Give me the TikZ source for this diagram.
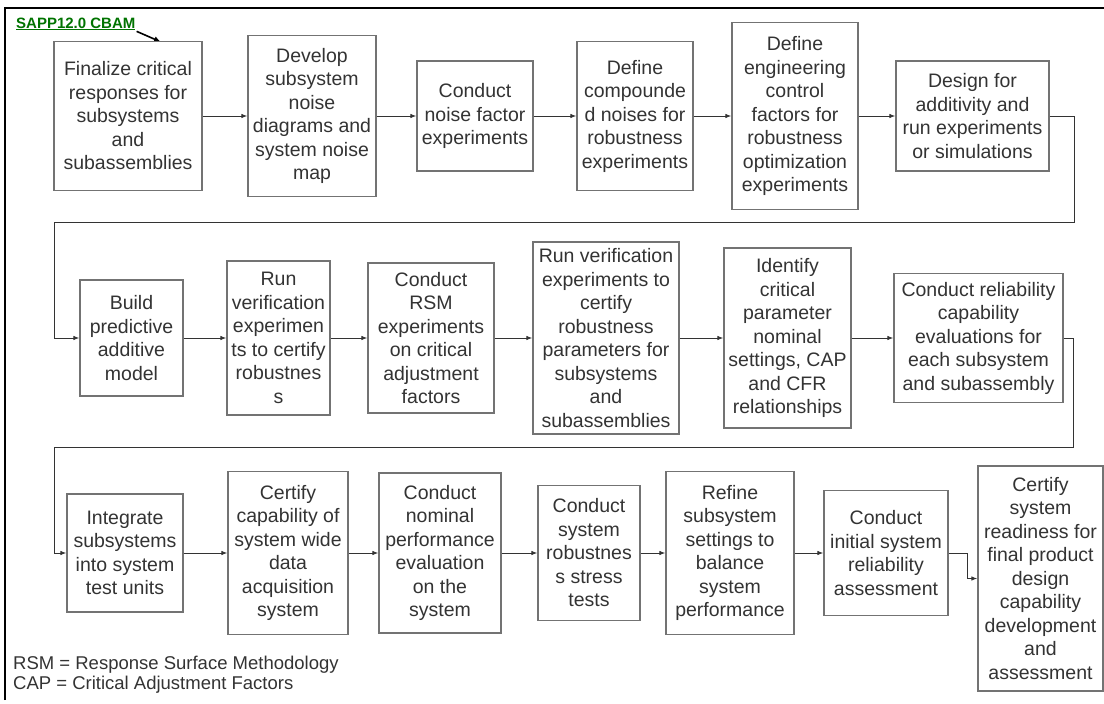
\documentclass[tikz,border=0pt]{standalone}
\usepackage{fontspec}
\setmainfont{Liberation Sans}
\usetikzlibrary{arrows.meta}

\begin{document}
\begin{tikzpicture}[x=1pt,y=-1pt,
box/.style={draw=black!55,line width=1.3pt,fill=white,align=center,inner sep=2pt,text=black!80,font=\fontsize{19.5}{23.5}\selectfont},
flow/.style={draw=black!80,line width=0.9pt,-{Latex[length=6pt,width=4.5pt]}}]
\useasboundingbox (0,0) rectangle (1104,704);
\def\ra{116}\def\rb{338}\def\rc{553}
\draw[line width=2pt] (5,700) -- (5,8) -- (1104,8);
\node[anchor=base west,inner sep=1pt,text=green!45!black,font=\fontsize{15}{17}\selectfont\bfseries] (cbam) at (15,28) {\underline{SAPP12.0 CBAM}};
\coordinate (tip) at (161,42);
\draw[line width=1.6pt,-{Latex[length=7pt,width=6pt]}] (cbam.south east) -- (tip);
\node[box,minimum width=148pt,minimum height=149pt] (s1) at (128,\ra) {Finalize critical\\responses for\\subsystems\\and\\subassemblies};
\node[box,minimum width=128pt,minimum height=161pt] (s2) at (312,\ra) {Develop\\subsystem\\noise\\diagrams and\\system noise\\map};
\node[box,minimum width=116pt,minimum height=110pt] (s3) at (475,\ra) {Conduct\\noise factor\\experiments};
\node[box,minimum width=116pt,minimum height=149pt] (s4) at (635,\ra) {Define\\compounde\\d noises for\\robustness\\experiments};
\node[box,minimum width=126pt,minimum height=187pt] (s5) at (795,\ra) {Define\\engineering\\control\\factors for\\robustness\\optimization\\experiments};
\node[box,minimum width=153pt,minimum height=110pt] (s6) at (972.5,\ra) {Design for\\additivity and\\run experiments\\or simulations};
\node[box,minimum width=103pt,minimum height=116pt] (s7) at (131.5,\rb) {Build\\predictive\\additive\\model};
\node[box,minimum width=103pt,minimum height=154pt] (s8) at (278.5,\rb) {Run\\verification\\experimen\\ts to certify\\robustnes\\s};
\node[box,minimum width=126pt,minimum height=150pt] (s9) at (431,\rb) {Conduct\\RSM\\experiments\\on critical\\adjustment\\factors};
\node[box,minimum width=146pt,minimum height=192pt] (s10) at (606,\rb) {Run verification\\experiments to\\certify\\robustness\\parameters for\\subsystems\\and\\subassemblies};
\node[box,minimum width=127pt,minimum height=180pt] (s11) at (787.5,\rb) {Identify\\critical\\parameter\\nominal\\settings, CAP\\and CFR\\relationships};
\node[box,minimum width=169pt,minimum height=129pt] (s12) at (978.5,\rb) {Conduct reliability\\capability\\evaluations for\\each subsystem\\and subassembly};
\node[box,minimum width=116pt,minimum height=118pt] (s13) at (125,\rc) {Integrate\\subsystems\\into system\\test units};
\node[box,minimum width=120pt,minimum height=163pt] (s14) at (288,\rc) {Certify\\capability of\\system wide\\data\\acquisition\\system};
\node[box,minimum width=122pt,minimum height=160pt] (s15) at (440,\rc) {Conduct\\nominal\\performance\\evaluation\\on the\\system};
\node[box,minimum width=102pt,minimum height=135pt] (s16) at (589,\rc) {Conduct\\system\\robustnes\\s stress\\tests};
\node[box,minimum width=128pt,minimum height=163pt] (s17) at (730,\rc) {Refine\\subsystem\\settings to\\balance\\system\\performance};
\node[box,minimum width=124pt,minimum height=125pt] (s18) at (886,\rc) {Conduct\\initial system\\reliability\\assessment};
\node[box,minimum width=125pt,minimum height=225pt] (s19) at (1040.5,578.5) {Certify\\system\\readiness for\\final product\\design\\capability\\development\\and\\assessment};
\draw[flow] (s1) -- (s2);\draw[flow] (s2) -- (s3);\draw[flow] (s3) -- (s4);\draw[flow] (s4) -- (s5);\draw[flow] (s5) -- (s6);
\draw[flow] (s6.east) -| (1074,222) -| (54,\rb) -- (s7.west);
\draw[flow] (s7) -- (s8);\draw[flow] (s8) -- (s9);\draw[flow] (s9) -- (s10);\draw[flow] (s10) -- (s11);\draw[flow] (s11) -- (s12);
\draw[flow] (s12.east) -| (1073,447) -| (54,\rc) -- (s13.west);
\draw[flow] (s13) -- (s14);\draw[flow] (s14) -- (s15);\draw[flow] (s15) -- (s16);\draw[flow] (s16) -- (s17);\draw[flow] (s17) -- (s18);
\draw[flow] (s18.east) -- ++(19,0) |- (s19.west);
\node[anchor=west,inner sep=0pt,text=black!80,font=\fontsize{18.5}{20}\selectfont] (rsm) at (13,665) {RSM = Response Surface Methodology};
\node[anchor=west,inner sep=0pt,text=black!80,font=\fontsize{18.5}{20}\selectfont] (cap) at (13,685) {CAP = Critical Adjustment Factors};
\end{tikzpicture}
\end{document}
